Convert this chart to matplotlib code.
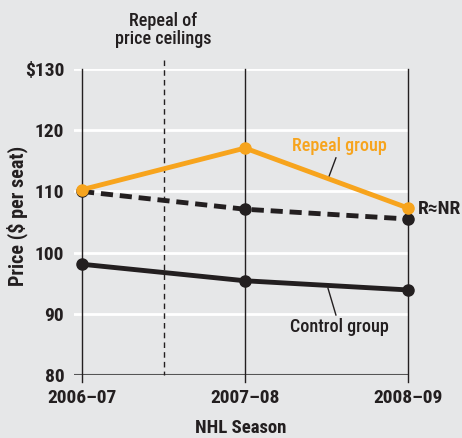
import matplotlib.pyplot as plt

plt.rcParams['font.family'] = ['Roboto Condensed', 'DejaVu Sans']

seasons = ['2006–07', '2007–08', '2008–09']
repeal = [110.3, 117.1, 107.3]
r_nr = [110.0, 107.1, 105.5]
control = [98.1, 95.4, 93.9]
yticks = [80, 90, 100, 110, 120, 130]
ylabels = ['80', '90', '100', '110', '120', '$130']

bg = '#e6e7e8'
orange = '#f7a41d'
dark = '#231f20'

fig = plt.figure(figsize=(4.62, 4.38), dpi=100, facecolor=bg)
ax = fig.add_axes([0.160, 0.144, 0.723, 0.698], facecolor=bg)
x = range(len(seasons))

ax.set_xlim(-0.05, 2.0)
ax.set_ylim(80, 130)
for s in ax.spines.values():
    s.set_visible(False)

# white gridlines
for t in yticks[1:]:
    ax.axhline(t, color='white', lw=2, zorder=1)
ax.axhline(80, color='#555555', lw=1.5, zorder=2)

# vertical season lines
for xi in x:
    ax.plot([xi, xi], [78.8, 130], color=dark, lw=1, clip_on=False, zorder=2)
ax.plot([0.5, 0.5], [131.5, 80], color=dark, lw=1, ls=(0, (4, 3)), clip_on=False, zorder=2)

ax.plot(x, r_nr, color=dark, lw=3.5, ls=(0, (2.5, 1.4)), marker='o', ms=8, clip_on=False, zorder=3)
ax.plot(x, control, color=dark, lw=3.5, marker='o', ms=8, clip_on=False, zorder=3)
ax.plot(x, repeal, color=orange, lw=3.5, marker='o', ms=8, clip_on=False, zorder=4)

ax.set_xticks(list(x))
ax.set_xticklabels(seasons, fontsize=14, fontweight='bold', color=dark)
ax.set_yticks(yticks)
ax.set_yticklabels(ylabels, fontsize=14, fontweight='bold', color=dark)
ax.tick_params(length=0)
ax.tick_params(axis='x', pad=10)
ax.tick_params(axis='y', pad=7)
ax.set_xlabel('NHL Season', fontsize=13.5, fontweight='bold', color=dark, labelpad=9)
ax.set_ylabel('Price ($ per seat)', fontsize=14.5, fontweight='bold', color=dark)
ax.yaxis.set_label_coords(-0.138, 0.52)

ax.text(0.5, 136.4, 'Repeal of\nprice ceilings', ha='center', va='center', fontsize=13,
        fontweight='medium', color=dark, linespacing=1.0)
ax.text(1.58, 117.4, 'Repeal group', ha='center', va='center', fontsize=13,
        fontweight='medium', color=orange)
ax.plot([1.558, 1.509], [115.5, 112.0], color=dark, lw=1)
ax.text(1.58, 87.8, 'Control group', ha='center', va='center', fontsize=13,
        fontweight='medium', color=dark)
ax.plot([1.509, 1.558], [94.2, 89.8], color=dark, lw=1)
ax.text(2.06, 107.1, 'R≈NR', ha='left', va='center', fontsize=14, fontweight='bold',
        color=dark, clip_on=False)

fig.savefig('out.png', dpi=100, facecolor=bg)
